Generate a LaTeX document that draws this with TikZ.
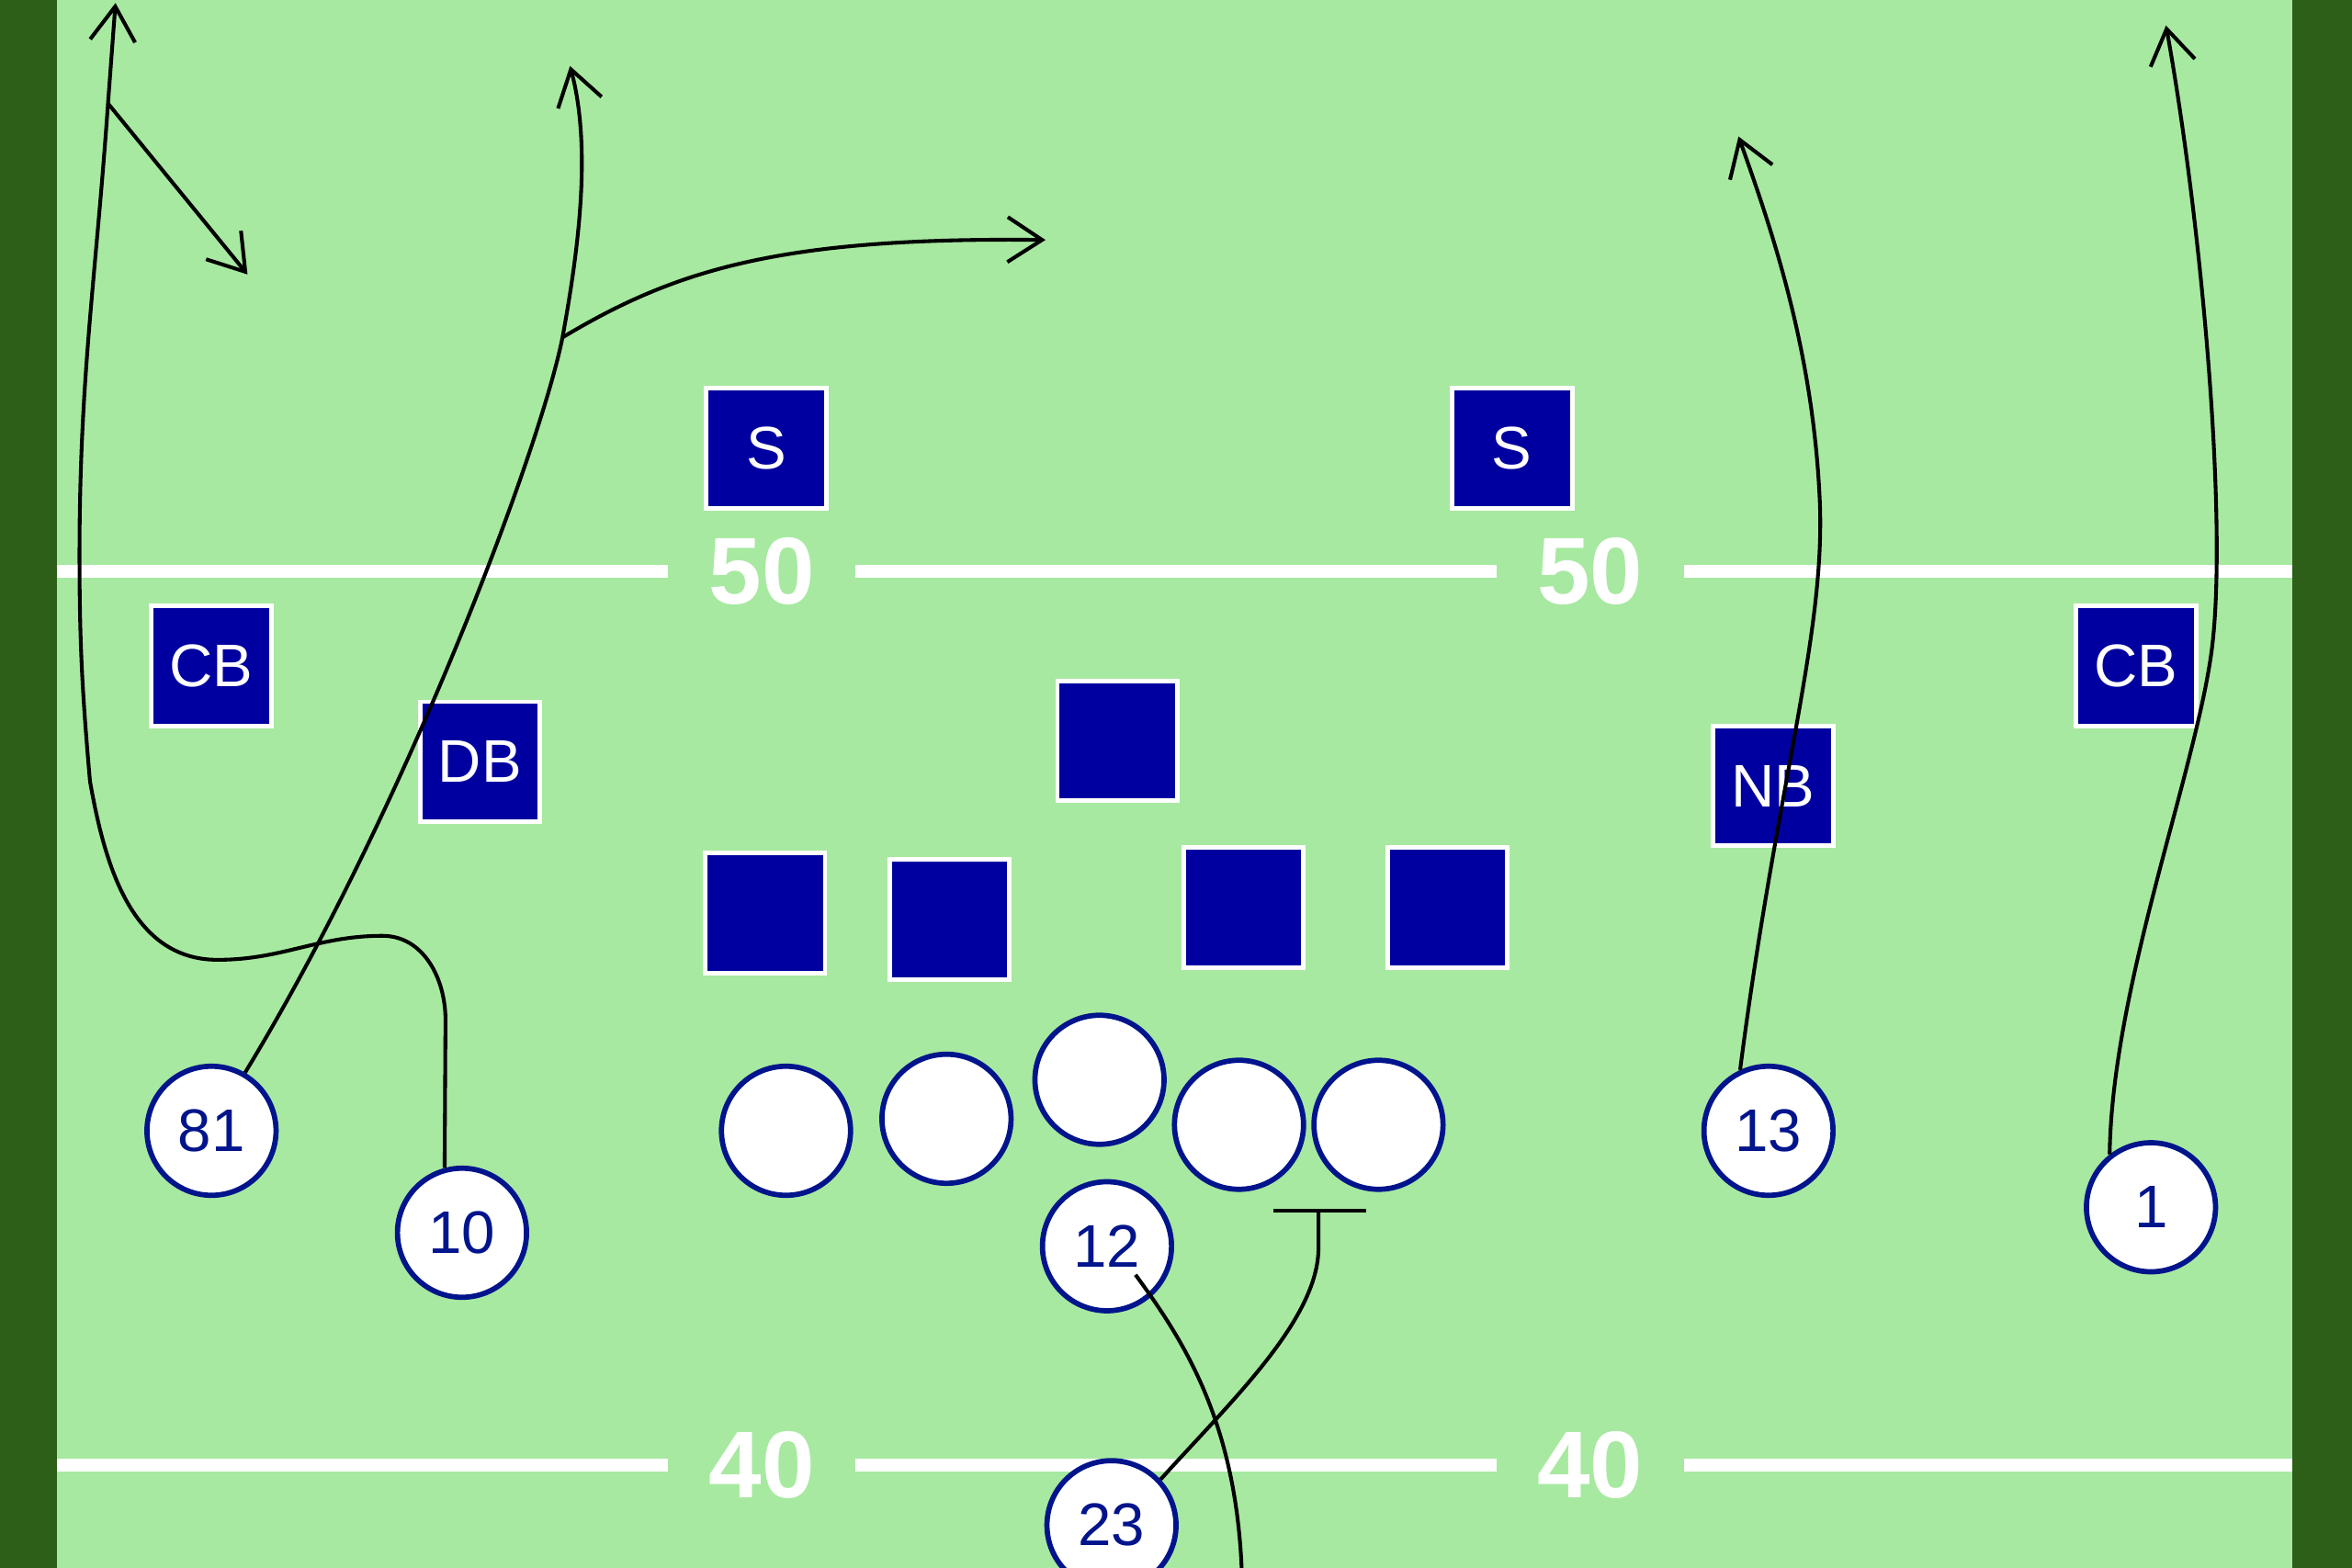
\documentclass[tikz,border=0pt]{standalone}
\usepackage{fontspec}
\setmainfont{Liberation Sans}
\usetikzlibrary{arrows.meta,calc}
\definecolor{field}{RGB}{167,233,160}
\definecolor{sideline}{RGB}{45,95,25}
\definecolor{defblue}{RGB}{0,0,160}
\definecolor{offnavy}{RGB}{0,20,140}
\begin{document}
\begin{tikzpicture}[x=0.01cm,y=0.01cm,
  defbox/.style={rectangle, fill=defblue, draw=white, line width=0.03cm, minimum size=0.8cm, inner sep=0pt, text=white, font=\fontsize{11.4}{12}\selectfont},
  offcirc/.style={circle, fill=white, draw=offnavy, line width=0.035cm, minimum size=0.86cm, inner sep=0pt, text=offnavy, font=\fontsize{11.4}{12}\selectfont},
  yardnum/.style={fill=field, text=white, font=\fontsize{18}{20}\selectfont\bfseries, minimum width=1.25cm, inner sep=0pt},
  yardline/.style={draw=white, line width=0.084cm},
  route/.style={draw=black, line width=0.025cm, -{Straight Barb[length=0.23cm,width=0.3cm]}},
  plainroute/.style={draw=black, line width=0.025cm}]
\useasboundingbox (0,0) rectangle (1568,-1045.5);
\clip (0,0) rectangle (1568,-1045.5);
% field
\fill[field] (0,0) rectangle (1568,-1045.5);
\fill[sideline] (0,0) rectangle (38,-1045.5);
\fill[sideline] (1528,0) rectangle (1568,-1045.5);
% yard lines
\draw[yardline] (38,-381) -- (1528,-381);
\draw[yardline] (38,-977) -- (1528,-977);
\node[yardnum] (y50a) at (508,-381) {50};
\node[yardnum] (y50b) at (1060,-381) {50};
\node[yardnum] (y40a) at (508,-977) {40};
\node[yardnum] (y40b) at (1060,-977) {40};
% defense
\node[defbox] (sL) at (511,-299) {S};
\node[defbox] (sR) at (1008,-299) {S};
\node[defbox] (cbL) at (141,-444) {CB};
\node[defbox] (db) at (320,-508) {DB};
\node[defbox] (lb) at (745,-494) {};
\node[defbox] (d1) at (510,-609) {};
\node[defbox] (d2) at (633,-613) {};
\node[defbox] (d3) at (829,-605) {};
\node[defbox] (d4) at (965,-605) {};
\node[defbox] (nb) at (1182,-524) {NB};
\node[defbox] (cbR) at (1424,-444) {CB};
% offense
\node[offcirc] (n81) at (141,-754) {81};
\node[offcirc] (n10) at (308,-822) {10};
\node[offcirc] (o1) at (524,-754) {};
\node[offcirc] (o2) at (631,-746) {};
\node[offcirc] (o3) at (733,-720) {};
\node[offcirc] (o4) at (826,-750) {};
\node[offcirc] (o5) at (919,-750) {};
\node[offcirc] (n12) at (738,-831) {12};
\node[offcirc] (n23) at (741,-1017) {23};
\node[offcirc] (n13) at (1179,-754) {13};
\node[offcirc] (n1) at (1434,-805) {1};
% route coordinates
\coordinate (b1) at (72,-69);
\coordinate (e1) at (77,-2);
\coordinate (e1b) at (165,-183);
\coordinate (b2) at (375,-225);
\coordinate (e2) at (380,-44);
\coordinate (e2b) at (697,-160);
\coordinate (e3) at (1159,-91);
\coordinate (e4) at (1444,-17);
\coordinate (e5) at (828,-1052);
\coordinate (tb) at (879,-807);
\coordinate (tbl) at (849,-807);
\coordinate (tbr) at (911,-807);
% routes
\draw[route] (n10.105) -- (297,-680) to[out=90,in=0] (255,-624)
  to[out=180,in=0] (145,-640) to[out=180,in=-80] (60,-521)
  to[out=95,in=-90] (53,-370) to[out=90,in=-94] (b1) -- (e1);
\draw[route] (b1) -- (e1b);
\draw[route] (n81.60) .. controls (270,-540) and (360,-300) .. (b2)
  .. controls (385,-170) and (395,-100) .. (e2);
\draw[route] (b2) .. controls (450,-180) and (520,-158) .. (e2b);
\draw[route] (n13.115) .. controls (1185,-520) and (1218,-420) .. (1213,-330)
  .. controls (1208,-230) and (1180,-150) .. (e3);
\draw[route] (n1.128) .. controls (1408,-660) and (1462,-520) .. (1474,-437)
  .. controls (1486,-354) and (1468,-150) .. (e4);
\draw[plainroute] ($(n12.center)+(19,-19)$) .. controls (790,-895) and (825,-950) .. (e5);
\draw[plainroute] (n23.43) .. controls (820,-935) and (879,-880) .. (879,-832) -- (tb);
\draw[plainroute] (tbl) -- (tbr);
\end{tikzpicture}
\end{document}
